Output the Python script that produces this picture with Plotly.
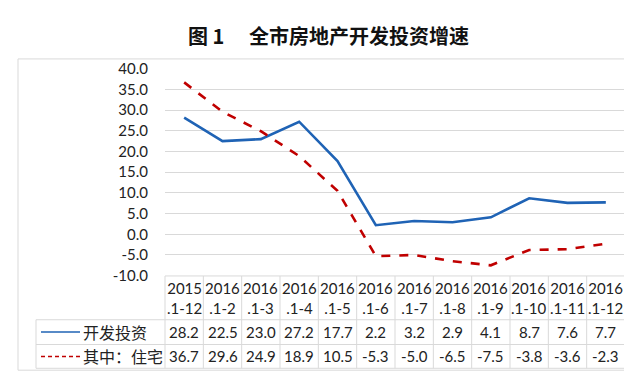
import plotly.graph_objects as go

# ---- data ----
years = ["2015", "2016", "2016", "2016", "2016", "2016", "2016", "2016", "2016", "2016", "2016", "2016"]
periods = [".1-12", ".1-2", ".1-3", ".1-4", ".1-5", ".1-6", ".1-7", ".1-8", ".1-9", ".1-10", ".1-11", ".1-12"]
invest = [28.2, 22.5, 23.0, 27.2, 17.7, 2.2, 3.2, 2.9, 4.1, 8.7, 7.6, 7.7]
housing = [36.7, 29.6, 24.9, 18.9, 10.5, -5.3, -5.0, -6.5, -7.5, -3.8, -3.6, -2.3]
series_names = ["开发投资", "其中：住宅"]
y_ticks = [40, 35, 30, 25, 20, 15, 10, 5, 0, -5, -10]
title = "图 1　 全市房地产开发投资增速"

categories = [y + p for y, p in zip(years, periods)]

W, H = 632, 374
def px(x):
    return x / W
def py(y):
    return 1 - y / H

BLUE = "#1f63b5"
RED = "#c00000"
GRID = "#d9d9d9"
FONT = "Lato, Noto Sans CJK SC, sans-serif"
CJK = "Noto Sans CJK SC, sans-serif"

fig = go.Figure()
fig.add_trace(go.Scatter(x=categories, y=invest, mode="lines", name=series_names[0],
                         line=dict(color=BLUE, width=2.6)))
fig.add_trace(go.Scatter(x=categories, y=housing, mode="lines", name=series_names[1],
                         line=dict(color=RED, width=2.6, dash="dash")))

x0, x1 = 157, 617
fig.update_layout(
    width=W, height=H,
    margin=dict(l=0, r=0, t=0, b=0),
    paper_bgcolor="white", plot_bgcolor="white",
    showlegend=False,
    font=dict(family=FONT, size=15, color="#222222"),
    xaxis=dict(domain=[px(x0), px(x1)], type="category", range=[-0.5, 11.5],
               showticklabels=False, showgrid=False, zeroline=False, showline=False, ticks=""),
    yaxis=dict(domain=[py(270.7), py(53.3)], range=[-10, 40], tickvals=y_ticks,
               ticktext=[f"{v:.1f}" for v in y_ticks],
               showgrid=True, gridcolor=GRID, gridwidth=1,
               zeroline=True, zerolinecolor=GRID, zerolinewidth=1, showline=False,
               ticks="", ticklabelstandoff=16, tickfont=dict(size=15, family=FONT, color="#222")),
)

shapes = []
# outer frame
shapes.append(dict(type="rect", xref="paper", yref="paper", x0=px(10), x1=px(620), y0=py(370), y1=py(43),
                   line=dict(color=GRID, width=1)))
# table grid
col_w = (x1 - x0) / len(categories)
top, r1, r2, bot = 271, 317, 343, 368
leg_x = 28
for i in range(len(categories) + 1):
    xx = x0 + i * col_w
    shapes.append(dict(type="line", xref="paper", yref="paper", x0=px(xx), x1=px(xx), y0=py(top), y1=py(bot),
                       line=dict(color=GRID, width=1)))
shapes.append(dict(type="line", xref="paper", yref="paper", x0=px(leg_x), x1=px(leg_x), y0=py(r1), y1=py(bot),
                   line=dict(color=GRID, width=1)))
shapes.append(dict(type="line", xref="paper", yref="paper", x0=px(x0), x1=px(x1), y0=py(top), y1=py(top),
                   line=dict(color=GRID, width=1)))
for yy in (r1, r2, bot):
    shapes.append(dict(type="line", xref="paper", yref="paper", x0=px(leg_x), x1=px(x1), y0=py(yy), y1=py(yy),
                       line=dict(color=GRID, width=1)))
# legend keys
shapes.append(dict(type="line", xref="paper", yref="paper", x0=px(33), x1=px(72), y0=py(330), y1=py(330),
                   line=dict(color=BLUE, width=1.5)))
shapes.append(dict(type="line", xref="paper", yref="paper", x0=px(33), x1=px(72), y0=py(355.5), y1=py(355.5),
                   line=dict(color=RED, width=1.5, dash="4px,3px")))

ann = []
ann.append(dict(text="<b>" + title + "</b>", xref="paper", yref="paper", x=px(320), y=py(18),
                showarrow=False, font=dict(family=CJK, size=20, color="#111"), xanchor="center", yanchor="middle"))
for c, yr, pr, a, b in zip(categories, years, periods, invest, housing):
    ann.append(dict(text=yr + "<br>" + pr, x=c, xref="x", yref="paper", y=py(294), showarrow=False,
                    font=dict(size=15, family=FONT, color="#222"), xanchor="center", yanchor="middle"))
    ann.append(dict(text=f"{a:.1f}", x=c, xref="x", yref="paper", y=py(330), showarrow=False,
                    font=dict(size=15, family=FONT, color="#222"), xanchor="center", yanchor="middle"))
    ann.append(dict(text=f"{b:.1f}", x=c, xref="x", yref="paper", y=py(355.5), showarrow=False,
                    font=dict(size=15, family=FONT, color="#222"), xanchor="center", yanchor="middle"))
ann.append(dict(text=series_names[0], xref="paper", yref="paper", x=px(73), y=py(330), showarrow=False,
                font=dict(size=16, family=CJK, color="#222"), xanchor="left", yanchor="middle"))
ann.append(dict(text=series_names[1], xref="paper", yref="paper", x=px(73), y=py(355.5), showarrow=False,
                font=dict(size=16, family=CJK, color="#222"), xanchor="left", yanchor="middle"))

fig.update_layout(shapes=shapes, annotations=ann)
fig.write_html("out.html")
